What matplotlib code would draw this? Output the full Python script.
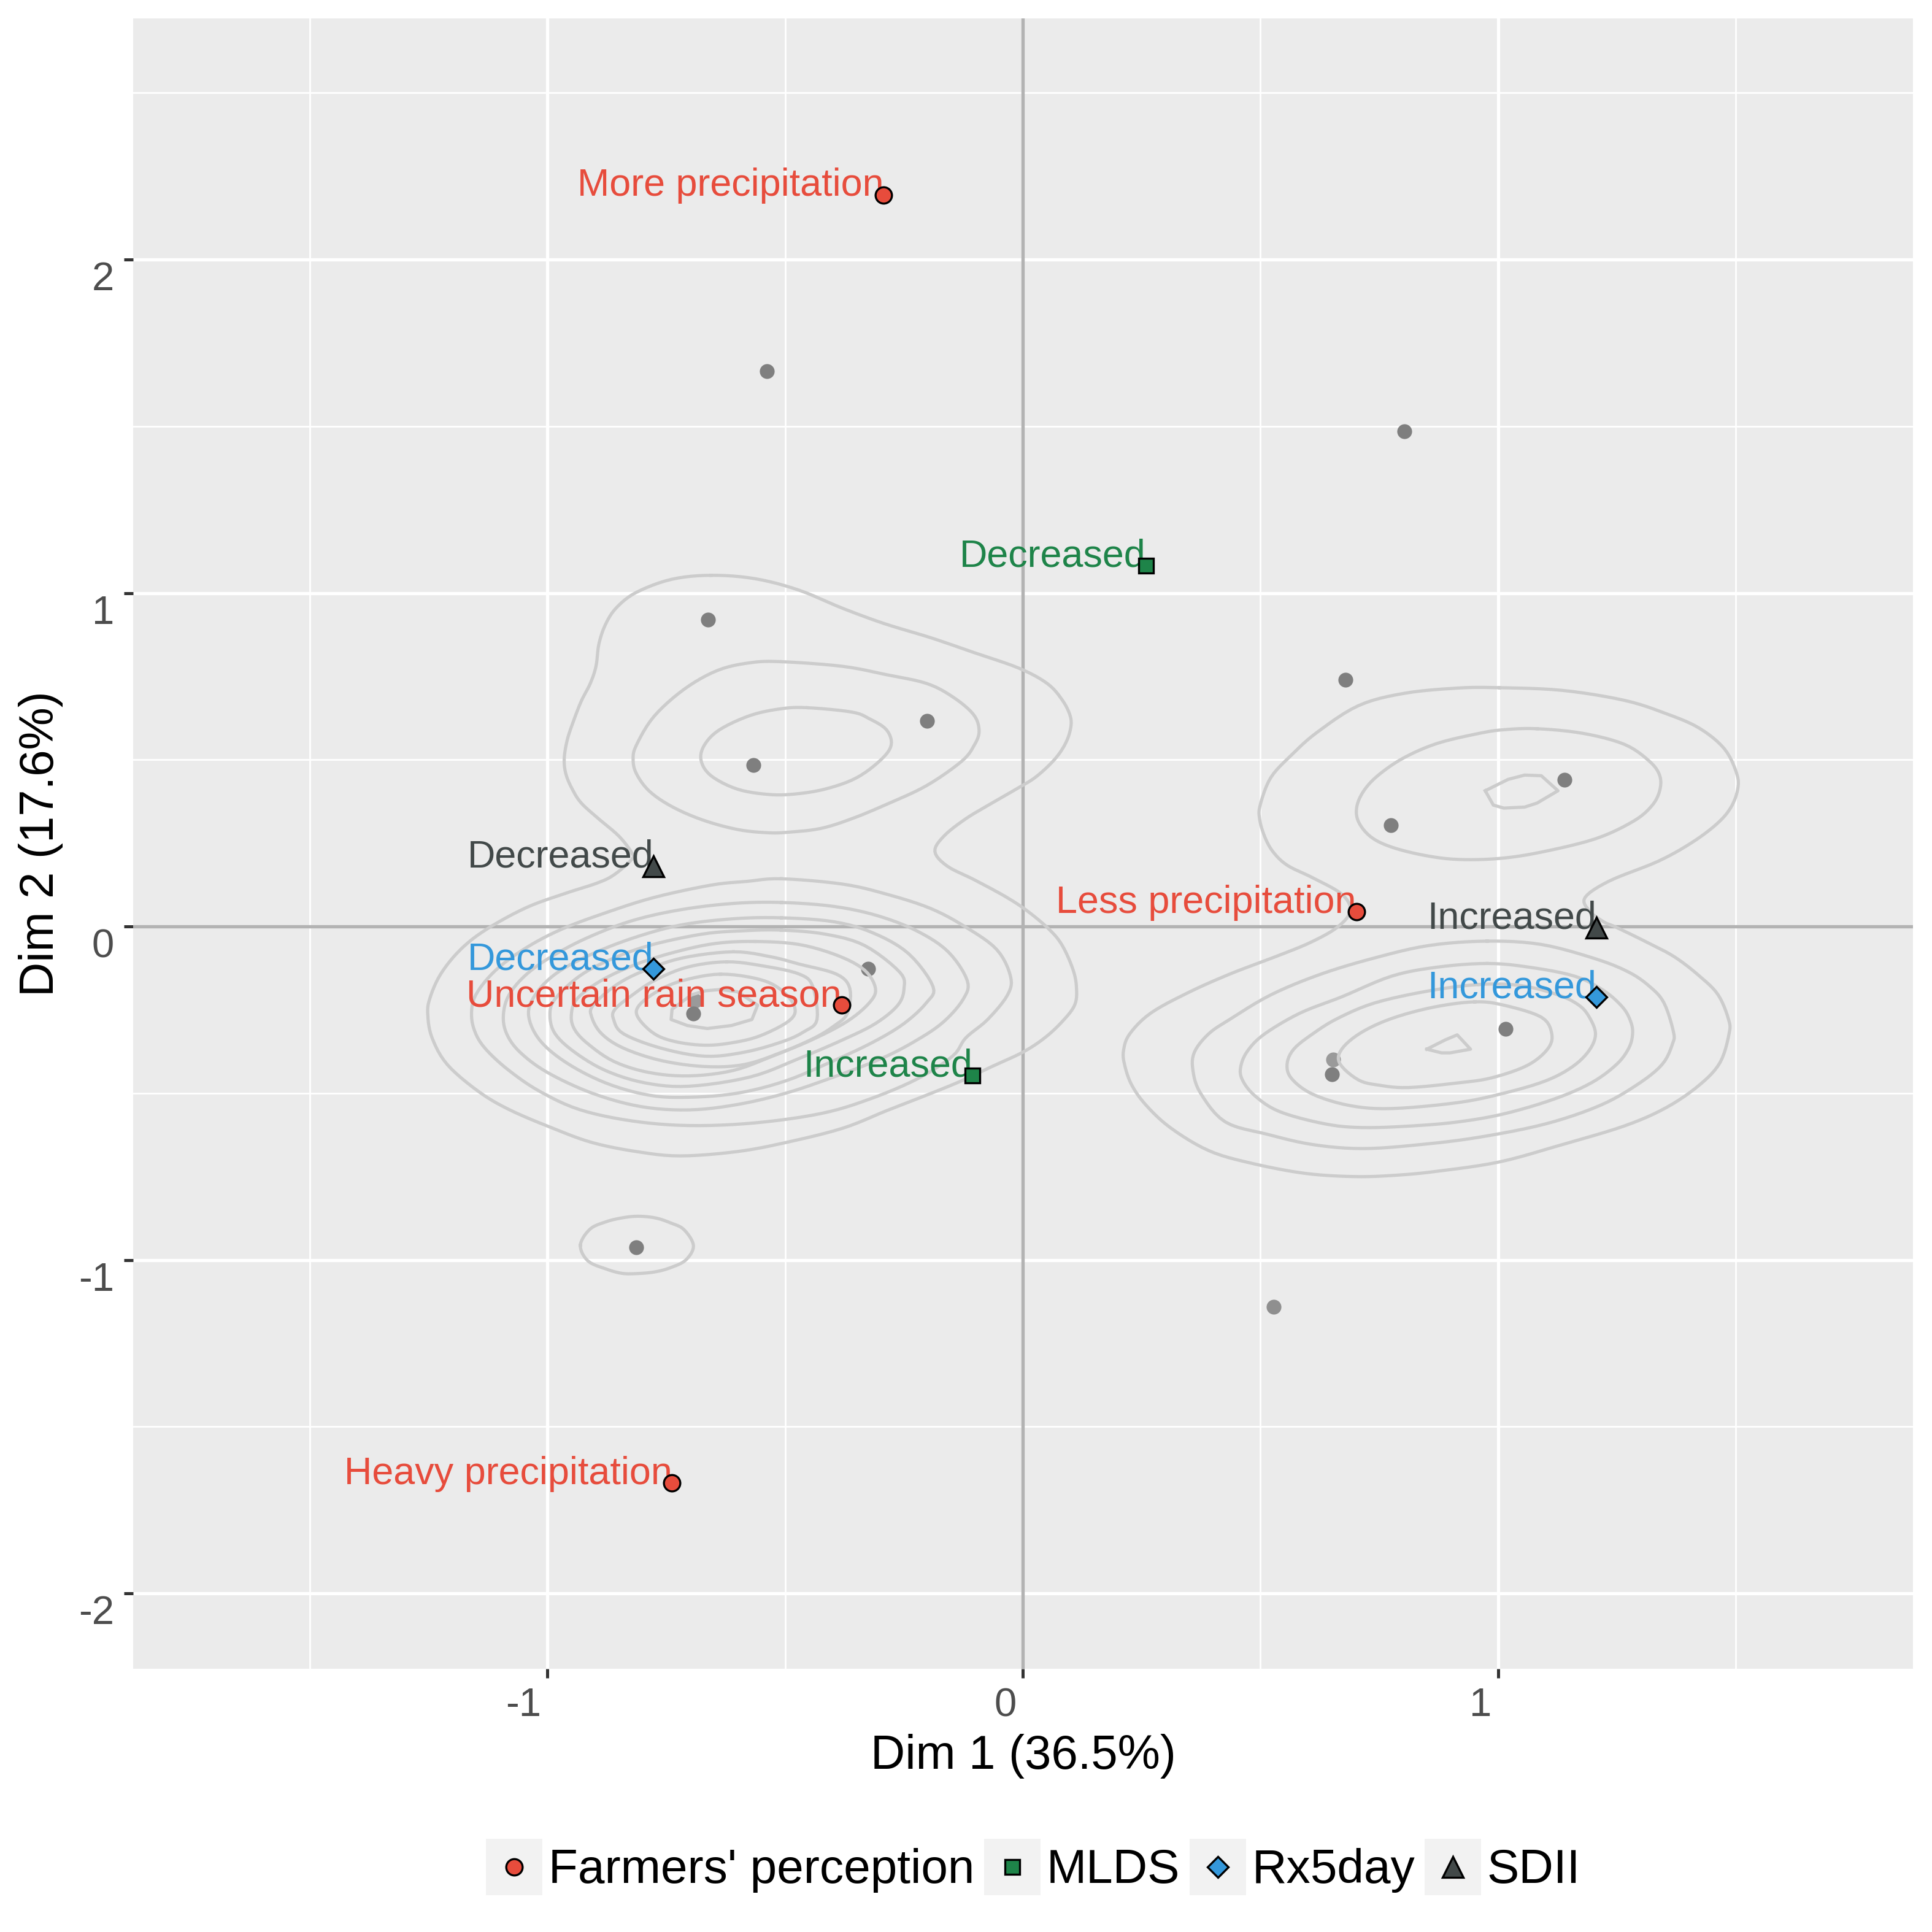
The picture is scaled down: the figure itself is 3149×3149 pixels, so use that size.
import numpy as np
import matplotlib
matplotlib.use("Agg")
import matplotlib.pyplot as plt
from matplotlib.legend_handler import HandlerBase
from matplotlib.lines import Line2D
from matplotlib.patches import Rectangle
from matplotlib.transforms import ScaledTranslation

plt.rcParams['font.family'] = ['Liberation Sans', 'DejaVu Sans']

# ---------- data ----------
ind_x = [-.539, .803, -.663, -.202, .679, -.567, 1.140, .775, -.326, -.689, -.694, 1.016, .653, .650, -.814, .528]
ind_y = [1.666, 1.485, .920, .617, .739, .484, .440, .303, -.126, -.222, -.262, -.307, -.399, -.443, -.962, -1.141]
ind_alpha = [1, 1, 1, 1, 1, 1, 1, 1, 1, .75, 1, 1, .75, 1, 1, .85]

groups = ["Farmers' perception", "MLDS", "Rx5day", "SDII"]
group_colors = ["#E74C3C", "#1E8449", "#3498DB", "#424949"]

farmers_x = [-.293, .702, -.381, -.738]
farmers_y = [2.194, .044, -.236, -1.669]
farmers_labels = ["More precipitation", "Less precipitation", "Uncertain rain season", "Heavy precipitation"]
mlds_x = [.259, -.106]
mlds_y = [1.082, -.447]
mlds_labels = ["Decreased", "Increased"]
rx5_x = [-.777, 1.207]
rx5_y = [-.126, -.211]
rx5_labels = ["Decreased", "Increased"]
sdii_x = [-.777, 1.207]
sdii_y = [.180, -.004]
sdii_labels = ["Decreased", "Increased"]

x_ticks = [-1, 0, 1]
y_ticks = [-2, -1, 0, 1, 2]
x_minor = [-1.5, -.5, .5, 1.5]
y_minor = [-1.5, -.5, .5, 1.5, 2.5]

outer_left = [(-.656,1.053),(-.564,1.043),(-.472,1.009),(-.379,.954),(-.291,.908),(-.194,.866),(-.102,.821),(-.009,.775),
 (.051,.729),(.083,.679),(.100,.630),(.100,.590),(.088,.544),(.065,.498),(.028,.449),(-.009,.416),(-.065,.370),(-.120,.323),
 (-.166,.271),(-.185,.225),(-.159,.181),(-.102,.140),(-.037,.090),(.009,.047),(.055,-.008),(.083,-.057),(.106,-.131),
 (.113,-.186),(.109,-.236),(.083,-.285),(.046,-.334),(.0,-.377),(-.065,-.420),(-.129,-.463),(-.203,-.506),(-.286,-.552),
 (-.379,-.605),(-.499,-.648),(-.601,-.675),(-.721,-.688),(-.813,-.675),(-.906,-.648),(-.989,-.605),(-1.081,-.549),
 (-1.146,-.494),(-1.211,-.414),(-1.243,-.334),(-1.252,-.266),(-1.248,-.217),(-1.225,-.143),(-1.183,-.069),(-1.128,-.008),
 (-1.044,.057),(-.961,.100),(-.896,.130),(-.860,.155),(-.823,.201),(-.823,.221),(-.850,.271),(-.896,.327),(-.929,.370),
 (-.947,.409),(-.961,.455),(-.965,.501),(-.959,.557),(-.947,.610),(-.929,.676),(-.910,.729),(-.898,.781),(-.892,.847),
 (-.878,.906),(-.855,.956),(-.813,1.002),(-.739,1.041)]
upper_left_2 = [(-.508,.794),(-.379,.780),(-.287,.755),(-.203,.729),(-.148,.689),(-.104,.636),(-.092,.587),(-.102,.544),
 (-.129,.495),(-.203,.422),(-.287,.366),(-.360,.323),(-.425,.294),(-.490,.283),(-.536,.281),(-.601,.291),(-.675,.320),
 (-.739,.360),(-.786,.406),(-.813,.458),(-.820,.501),(-.813,.544),(-.776,.630),(-.712,.712),(-.642,.768),(-.573,.791)]
upper_left_3 = [(-.453,.656),(-.360,.643),(-.323,.623),(-.287,.590),(-.277,.544),(-.300,.498),(-.351,.445),(-.416,.412),
 (-.481,.397),(-.536,.396),(-.601,.412),(-.656,.452),(-.677,.498),(-.670,.544),(-.638,.590),(-.573,.633),(-.508,.653)]
lower_left_1 = [(-.508,.143),(-.379,.127),(-.287,.097),(-.194,.054),(-.120,-.002),(-.055,-.069),(-.026,-.149),(-.032,-.205),
 (-.074,-.279),(-.120,-.334),(-.148,-.389),(-.222,-.457),(-.323,-.518),(-.425,-.561),(-.564,-.589),(-.702,-.597),(-.823,-.583),
 (-.933,-.549),(-1.017,-.494),(-1.081,-.432),(-1.128,-.371),(-1.151,-.322),(-1.160,-.266),(-1.151,-.205),(-1.109,-.131),
 (-1.044,-.063),(-.970,-.008),(-.878,.041),(-.776,.087),(-.656,.124),(-.582,.135)]
lower_left_2 = [(-.508,.072),(-.397,.060),(-.305,.032),(-.222,-.014),(-.157,-.076),(-.117,-.162),(-.125,-.217),(-.166,-.285),
 (-.222,-.340),(-.296,-.395),(-.397,-.451),(-.499,-.500),(-.601,-.534),(-.702,-.550),(-.804,-.540),(-.906,-.500),(-1.0,-.438),
 (-1.058,-.377),(-1.086,-.322),(-1.093,-.266),(-1.081,-.205),(-1.044,-.143),(-.989,-.088),(-.915,-.033),(-.823,.017),
 (-.721,.050),(-.610,.069)]
lower_left_3 = [(-.508,.026),(-.397,.014),(-.314,-.020),(-.240,-.082),(-.189,-.180),(-.203,-.229),(-.250,-.291),(-.314,-.346),
 (-.397,-.402),(-.499,-.463),(-.601,-.500),(-.702,-.512),(-.786,-.506),(-.878,-.469),(-.961,-.408),(-1.017,-.340),(-1.040,-.266),
 (-1.026,-.205),(-.984,-.143),(-.915,-.088),(-.823,-.036),(-.721,.004),(-.610,.023)]
lower_left_4 = [(-.508,-.011),(-.416,-.023),(-.333,-.057),(-.259,-.137),(-.250,-.186),(-.263,-.236),(-.310,-.291),(-.379,-.340),
 (-.471,-.396),(-.573,-.451),(-.702,-.479),(-.795,-.469),(-.878,-.432),(-.943,-.377),(-.984,-.322),(-.995,-.266),(-.984,-.217),
 (-.933,-.149),(-.869,-.100),(-.786,-.057),(-.675,-.023),(-.591,-.013)]
lower_left_5 = [(-.564,-.045),(-.471,-.054),(-.388,-.088),(-.333,-.131),(-.310,-.186),(-.323,-.229),(-.370,-.285),(-.444,-.340),
 (-.527,-.389),(-.610,-.432),(-.702,-.448),(-.786,-.438),(-.860,-.405),(-.915,-.352),(-.943,-.309),(-.950,-.266),(-.938,-.217),
 (-.887,-.162),(-.813,-.113),(-.730,-.076),(-.647,-.051)]
lower_left_6 = [(-.609,-.076),(-.530,-.091),(-.470,-.113),(-.392,-.143),(-.364,-.186),(-.369,-.260),(-.396,-.297),(-.438,-.334),
 (-.507,-.377),(-.586,-.414),(-.669,-.420),(-.761,-.402),(-.840,-.365),(-.886,-.322),(-.907,-.272),(-.904,-.236),(-.854,-.174),
 (-.794,-.131),(-.715,-.094)]
lower_left_7 = [(-.623,-.106),(-.544,-.119),(-.470,-.143),(-.442,-.180),(-.433,-.279),(-.461,-.316),(-.507,-.346),(-.586,-.377),
 (-.669,-.389),(-.761,-.365),(-.840,-.322),(-.861,-.279),(-.858,-.248),(-.821,-.205),(-.775,-.162),(-.706,-.122)]
lower_left_8 = [(-.636,-.143),(-.553,-.159),(-.507,-.192),(-.480,-.242),(-.491,-.282),(-.553,-.328),(-.613,-.349),(-.669,-.356),
 (-.729,-.346),(-.775,-.322),(-.810,-.272),(-.807,-.236),(-.766,-.192),(-.715,-.162)]
lower_left_9 = [(-.636,-.189),(-.600,-.196),(-.558,-.236),(-.570,-.279),(-.613,-.297),(-.664,-.306),(-.706,-.297),(-.740,-.279),
 (-.738,-.248),(-.697,-.205),(-.669,-.193)]
small_blob = [(-.931,-.956),(-.911,-.908),(-.878,-.886),(-.844,-.874),(-.810,-.869),(-.773,-.874),(-.741,-.889),(-.713,-.909),
 (-.693,-.957),(-.709,-1.0),(-.741,-1.023),(-.775,-1.036),(-.814,-1.041),(-.844,-1.040),(-.877,-1.027),(-.915,-1.003)]
outer_right = [(1.003,.716),(1.135,.708),(1.266,.678),(1.354,.638),(1.423,.595),(1.476,.533),(1.502,.459),(1.504,.410),(1.489,.355),
 (1.459,.306),(1.406,.250),(1.336,.195),(1.235,.137),(1.183,.087),(1.192,.047),(1.222,.014),(1.248,-.002),(1.310,-.045),(1.371,-.091),
 (1.424,-.149),(1.463,-.205),(1.485,-.279),(1.486,-.322),(1.467,-.408),(1.424,-.475),(1.354,-.543),(1.266,-.598),(1.135,-.654),
 (1.003,-.706),(.872,-.734),(.785,-.746),(.697,-.750),(.592,-.740),(.478,-.709),(.391,-.672),(.312,-.605),(.260,-.537),(.229,-.475),
 (.214,-.414),(.212,-.371),(.225,-.322),(.269,-.260),(.347,-.199),(.435,-.143),(.531,-.091),(.605,-.048),(.662,-.002),(.689,.047),
 (.671,.097),(.610,.146),(.557,.183),(.527,.223),(.509,.269),(.498,.324),(.500,.367),(.522,.447),(.566,.515),(.619,.582),(.706,.662),
 (.802,.699),(.916,.715)]
upper_right_2 = [(1.082,.593),(1.179,.579),(1.266,.546),(1.318,.496),(1.340,.453),(1.340,.407),(1.323,.361),(1.284,.315),(1.205,.263),
 (1.091,.223),(1.003,.204),(.916,.201),(.846,.213),(.776,.238),(.732,.269),(.706,.315),(.703,.361),(.719,.410),(.750,.456),(.802,.506),
 (.872,.549),(.960,.579),(1.012,.590)]
upper_right_3 = [(.973,.407),(1.021,.441),(1.056,.454),(1.091,.452),(1.126,.407),(1.082,.370),(1.056,.358),(1.012,.355),(.990,.364)]
lower_right_1 = [(.977,-.044),(1.091,-.054),(1.205,-.097),(1.275,-.137),(1.319,-.180),(1.349,-.229),(1.369,-.316),(1.367,-.352),
 (1.345,-.414),(1.292,-.475),(1.214,-.537),(1.100,-.592),(.960,-.632),(.837,-.654),(.715,-.666),(.610,-.654),(.514,-.623),(.426,-.586),
 (.374,-.500),(.358,-.432),(.361,-.377),(.391,-.322),(.435,-.279),(.522,-.205),(.627,-.143),(.741,-.094),(.855,-.057)]
lower_right_2 = [(.977,-.111),(1.065,-.122),(1.161,-.149),(1.222,-.192),(1.262,-.242),(1.279,-.285),(1.283,-.322),(1.275,-.365),
 (1.249,-.414),(1.196,-.469),(1.117,-.518),(1.012,-.562),(.916,-.586),(.820,-.598),(.715,-.603),(.636,-.592),(.540,-.555),(.487,-.506),
 (.461,-.457),(.459,-.417),(.474,-.371),(.509,-.322),(.583,-.260),(.671,-.211),(.776,-.149),(.872,-.122)]
lower_right_3 = [(.960,-.174),(1.047,-.177),(1.126,-.205),(1.170,-.236),(1.192,-.272),(1.205,-.322),(1.192,-.371),(1.157,-.420),
 (1.100,-.463),(1.012,-.500),(.916,-.528),(.776,-.546),(.688,-.537),(.610,-.503),(.566,-.457),(.556,-.414),(.570,-.368),(.610,-.322),
 (.662,-.276),(.741,-.229),(.855,-.193)]
lower_right_4 = [(.951,-.226),(1.012,-.236),(1.091,-.272),(1.113,-.322),(1.104,-.368),(1.061,-.417),(.986,-.454),(.916,-.469),(.811,-.483),
 (.750,-.476),(.706,-.460),(.667,-.411),(.671,-.368),(.711,-.319),(.776,-.276),(.864,-.242)]
lower_right_5 = [(.850,-.368),(.889,-.340),(.914,-.325),(.942,-.368),(.899,-.379),(.881,-.379)]

# Rings that stay polygonal in the reference (small, coarse contours) are drawn unsmoothed.
smooth_contours = [outer_left, upper_left_2, upper_left_3, lower_left_1, lower_left_2, lower_left_3, lower_left_4,
                   lower_left_5, lower_left_6, lower_left_7, lower_left_8, small_blob, outer_right, upper_right_2,
                   lower_right_1, lower_right_2, lower_right_3, lower_right_4]
sharp_contours = [lower_left_9, upper_right_3, lower_right_5]


def round_ring(ring, n=6):
    """Periodic Catmull-Rom path through the digitised ring vertices."""
    p = np.array(ring)
    t = np.linspace(0, 1, n, endpoint=False)[:, None]
    out = []
    for i in range(len(p)):
        p0, p1, p2, p3 = p[i - 1], p[i], p[(i + 1) % len(p)], p[(i + 2) % len(p)]
        out.append(0.5 * (2 * p1 + (p2 - p0) * t + (2 * p0 - 5 * p1 + 4 * p2 - p3) * t**2
                          + (3 * p1 - p0 - 3 * p2 + p3) * t**3))
    out = np.vstack(out)
    return np.vstack([out, out[:1]])


# ---------- figure ----------
W = 3149
fig = plt.figure(figsize=(W / 300, W / 300), dpi=300, facecolor='white')
ax = fig.add_axes([217 / W, 1 - 2720 / W, (3118 - 217) / W, (2720 - 30) / W])
ax.set_facecolor('#EBEBEB')
ax.set_xlim(-1.872, 1.873)
ax.set_ylim(-2.226, 2.723)
for s in ax.spines.values():
    s.set_visible(False)
ax.set_axisbelow(True)

ax.set_xticks(x_ticks)
ax.set_yticks(y_ticks)
ax.set_xticks(x_minor, minor=True)
ax.set_yticks(y_minor, minor=True)
ax.grid(which='major', color='white', lw=1.25)
ax.grid(which='minor', color='white', lw=0.65)
ax.tick_params(which='minor', length=0)
ax.tick_params(which='major', length=3.6, width=1.2, color='#333333', labelcolor='#4D4D4D', labelsize=15.7)
ax.tick_params(axis='x', pad=3.6)
ax.tick_params(axis='y', pad=3.8)
ax.set_xticklabels([str(v) for v in x_ticks], ha='right')
ax.set_yticklabels([str(v) for v in y_ticks], va='top')
shift = ScaledTranslation(-10 / 300, 0, fig.dpi_scale_trans)
for lab in ax.get_xticklabels():
    lab.set_transform(lab.get_transform() + shift)
shift_y = ScaledTranslation(0, -3 / 300, fig.dpi_scale_trans)
for lab in ax.get_yticklabels():
    lab.set_transform(lab.get_transform() + shift_y)

ax.axhline(0, color='#B3B3B3', lw=1.3, zorder=1.5)
ax.axvline(0, color='#B3B3B3', lw=1.3, zorder=1.5)

ax.set_xlabel("Dim 1 (36.5%)", fontsize=18.7, color='black', va='center')
ax.set_ylabel("Dim 2 (17.6%)", fontsize=18.7, color='black', va='center')
ax.xaxis.set_label_coords(0.5, -0.053)
ax.yaxis.set_label_coords(-0.052, 0.5)

for xi, yi, al in zip(ind_x, ind_y, ind_alpha):
    ax.plot([xi], [yi], 'o', ms=5.8, mfc='#7F7F7F', mec='none', alpha=al, zorder=2)

for c in smooth_contours:
    pts = round_ring(c)
    ax.plot(pts[:, 0], pts[:, 1], color='#CCCCCC', lw=1.25, solid_joinstyle='round', zorder=3)
for c in sharp_contours:
    pts = np.array(c + [c[0]])
    ax.plot(pts[:, 0], pts[:, 1], color='#CCCCCC', lw=1.25, solid_joinstyle='round', zorder=3)

series = [(farmers_x, farmers_y, farmers_labels, 'o', 6.4),
          (mlds_x, mlds_y, mlds_labels, 's', 5.7),
          (rx5_x, rx5_y, rx5_labels, 'D', 5.9),
          (sdii_x, sdii_y, sdii_labels, '^', 8.0)]
handles = []
for (xs, ys, labs, mk, ms), name, col in zip(series, groups, group_colors):
    line, = ax.plot(xs, ys, ls='none', marker=mk, ms=ms, mfc=col, mec='black', mew=0.8, label=name, zorder=5)
    handles.append(line)
    for xi, yi, t in zip(xs, ys, labs):
        ax.annotate(t, (xi, yi), xytext=(0, -0.4), textcoords='offset points', ha='right', va='baseline',
                    color=col, fontsize=15.1, zorder=4)


class KeyHandler(HandlerBase):
    def create_artists(self, legend, orig, xd, yd, width, height, fontsize, trans):
        bg = Rectangle((-xd, -yd), width, height, facecolor='#F2F2F2', edgecolor='none', transform=trans)
        mark = Line2D([-xd + width / 2], [-yd + height / 2], ls='none', marker=orig.get_marker(),
                      ms=orig.get_markersize(), mfc=orig.get_markerfacecolor(), mec='black', mew=0.8, transform=trans)
        return [bg, mark]


ax.legend(handles=handles, handler_map={Line2D: KeyHandler()}, ncol=4, frameon=False, fontsize=18.8,
          loc='center', bbox_to_anchor=(1684 / W, 1 - 3043 / W), bbox_transform=fig.transFigure,
          borderpad=0, borderaxespad=0, handlelength=1.18, handleheight=1.44, handletextpad=0.12, columnspacing=0.2)

fig.savefig('out.png', dpi=300)
